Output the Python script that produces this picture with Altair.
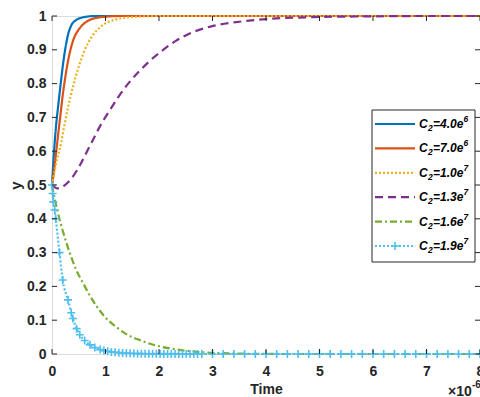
import altair as alt
import pandas as pd

# ---------------- data ----------------
series_labels = ["C2=4.0e6", "C2=7.0e6", "C2=1.0e7", "C2=1.3e7", "C2=1.6e7", "C2=1.9e7"]
label_mid = ["=4.0e", "=7.0e", "=1.0e", "=1.3e", "=1.6e", "=1.9e"]
label_sup = ["6", "6", "7", "7", "7", "7"]
series_colors = ["#0072BD", "#D95319", "#EDB120", "#7E2F8E", "#77AC30", "#4DBEEE"]
series_dashes = [[1, 0], [1, 0], [2, 2], [8, 5], [7, 3, 2, 3], [2, 2]]

t_c1 = [0, 0.03, 0.07, 0.12, 0.17, 0.2, 0.245, 0.3, 0.36, 0.45, 0.55, 0.65, 0.8, 1.0, 2, 4, 6, 8]
y_c1 = [0.5, 0.58, 0.665, 0.74, 0.81, 0.85, 0.9, 0.945, 0.972, 0.988, 0.995, 0.998, 1, 1, 1, 1, 1, 1]

t_c2 = [0, 0.04, 0.08, 0.13, 0.16, 0.2, 0.24, 0.31, 0.4, 0.5, 0.58, 0.7, 0.85, 1.0, 1.3, 2, 4, 6, 8]
y_c2 = [0.5, 0.545, 0.6, 0.67, 0.71, 0.765, 0.81, 0.875, 0.93, 0.96, 0.975, 0.988, 0.995, 0.998, 1, 1, 1, 1, 1]

t_c3 = [0, 0.08, 0.17, 0.23, 0.3, 0.39, 0.5, 0.6, 0.75, 0.94, 1.2, 1.5, 2, 3, 4, 6, 8]
y_c3 = [0.5, 0.565, 0.625, 0.675, 0.73, 0.79, 0.85, 0.895, 0.94, 0.972, 0.99, 0.997, 1, 1, 1, 1, 1]

t_c4 = [0, 0.1, 0.2, 0.3, 0.39, 0.545, 0.64, 0.76, 0.89, 1.1, 1.23, 1.45, 1.64, 1.82, 2.0,
        2.3, 2.63, 3.0, 3.5, 4.0, 5.0, 6.0, 7.0, 8.0]
y_c4 = [0.5, 0.49, 0.495, 0.508, 0.525, 0.565, 0.595, 0.632, 0.672, 0.726, 0.758, 0.805, 0.838,
        0.866, 0.89, 0.925, 0.952, 0.97, 0.983, 0.991, 0.997, 0.999, 1, 1]

t_c5 = [0, 0.05, 0.1, 0.2, 0.33, 0.45, 0.58, 0.7, 0.83, 1.0, 1.2, 1.4, 1.64, 2.0, 2.26, 2.6,
        2.9, 3.3, 3.8, 4.5, 6, 8]
y_c5 = [0.5, 0.46, 0.425, 0.365, 0.3, 0.25, 0.21, 0.175, 0.142, 0.108, 0.08, 0.058, 0.041,
        0.023, 0.015, 0.008, 0.004, 0.002, 0.0005, 0, 0, 0]

t_c6 = [0, 0.012, 0.025, 0.05, 0.07, 0.14, 0.2, 0.3, 0.36, 0.39, 0.46, 0.52, 0.61, 0.71, 0.8,
        0.9, 0.97, 1.04, 1.11, 1.18, 1.25, 1.32, 1.39, 1.46, 1.53, 1.6, 1.67, 1.74, 1.81, 1.88,
        1.95, 2.02, 2.09, 2.16, 2.23, 2.3, 2.37, 2.44, 2.51, 2.58, 2.65, 2.72, 2.8,
        3.0, 3.2, 3.4, 3.6, 3.8, 4.0, 4.2, 4.4, 4.6, 4.8, 5.0, 5.2, 5.4, 5.6, 5.8,
        6.0, 6.2, 6.4, 6.6, 6.8, 7.0, 7.2, 7.4, 7.6, 7.8, 8.0]
y_c6 = [0.5, 0.475, 0.45, 0.426, 0.4, 0.3, 0.219, 0.16, 0.122, 0.105, 0.075, 0.057, 0.04, 0.027,
        0.019, 0.013, 0.01, 0.008, 0.006, 0.005, 0.004, 0.003, 0.0025, 0.002, 0.0015, 0.001,
        0.001, 0.0008, 0.0006, 0.0005, 0.0004, 0.0003, 0.0003, 0.0002, 0.0002, 0.0001, 0.0001,
        0, 0, 0, 0, 0, 0,
        0, 0, 0, 0, 0, 0, 0, 0, 0, 0, 0, 0, 0, 0, 0,
        0, 0, 0, 0, 0, 0, 0, 0, 0, 0, 0]

x_ticks = [0, 1, 2, 3, 4, 5, 6, 7, 8]
y_ticks = [0, 0.1, 0.2, 0.3, 0.4, 0.5, 0.6, 0.7, 0.8, 0.9, 1]

# ---------------- tables ----------------
all_t = [t_c1, t_c2, t_c3, t_c4, t_c5, t_c6]
all_y = [y_c1, y_c2, y_c3, y_c4, y_c5, y_c6]
rows = []
for k, (lab, ts, ys) in enumerate(zip(series_labels, all_t, all_y)):
    for t, y in zip(ts, ys):
        rows.append({"series": lab, "k": k, "t": t, "y": y})
df = pd.DataFrame(rows)
df_mk = pd.DataFrame({"t": t_c6, "y": y_c6})
df_xt = pd.DataFrame({"t": x_ticks})
df_yt = pd.DataFrame({"y": y_ticks})
df_leg = pd.DataFrame({"series": series_labels, "row": list(range(len(series_labels))),
                       "c": ["C"] * len(series_labels), "sub": ["2"] * len(series_labels),
                       "mid": label_mid, "sup": label_sup})
df_one = pd.DataFrame({"a": [0]})

FONT = "Liberation Sans"
INK = "#262626"
W, H = 428, 338

xscale = alt.Scale(domain=[0, 8], nice=False, zero=False)
yscale = alt.Scale(domain=[0, 1], nice=False, zero=False)
cscale = alt.Scale(domain=series_labels, range=series_colors)
dscale = alt.Scale(domain=series_labels, range=series_dashes)

x_axis = alt.Axis(values=x_ticks, format="~g", ticks=False, tickSize=0, domain=False, grid=False,
                  labelFont=FONT, labelFontSize=14, labelFontWeight="bold", labelColor=INK,
                  labelPadding=10, labelFlush=False, labelOverlap=False,
                  title="Time", titleFont=FONT, titleFontSize=14, titleFontWeight="bold",
                  titleColor=INK, titlePadding=4)
y_axis = alt.Axis(values=y_ticks, format="~g", ticks=False, tickSize=0, domain=False, grid=False,
                  labelFont=FONT, labelFontSize=14, labelFontWeight="bold", labelColor=INK,
                  labelPadding=6, labelFlush=False, labelOverlap=False,
                  title="y", titleFont=FONT, titleFontSize=15, titleFontWeight="bold",
                  titleColor=INK, titlePadding=3)

X = alt.X("t:Q", scale=xscale, axis=x_axis)
Y = alt.Y("y:Q", scale=yscale, axis=y_axis)

lines = alt.Chart(df).mark_line(strokeWidth=2.2, interpolate="monotone").encode(
    x=X, y=Y,
    color=alt.Color("series:N", scale=cscale, legend=None),
    strokeDash=alt.StrokeDash("series:N", scale=dscale, legend=None),
    order=alt.Order("t:Q"),
)

plus_path = "M-1,0L1,0M0,-1L0,1"
markers = alt.Chart(df_mk).mark_point(shape=plus_path, filled=False, size=64, strokeWidth=1.6,
                                      color="#4DBEEE", opacity=1).encode(x=X, y=Y)

tick_style = dict(color=INK, strokeWidth=1)
ytick_l = alt.Chart(df_yt).mark_rule(**tick_style).encode(y=Y, x=alt.value(0), x2=alt.value(5))
ytick_r = alt.Chart(df_yt).mark_rule(**tick_style).encode(y=Y, x=alt.value(W), x2=alt.value(W - 5))
xtick_b = alt.Chart(df_xt).mark_rule(**tick_style).encode(x=X, y=alt.value(H), y2=alt.value(H - 5))
xtick_t = alt.Chart(df_xt).mark_rule(**tick_style).encode(x=X, y=alt.value(0), y2=alt.value(5))

exp_base = alt.Chart(df_one).mark_text(text="\u00d710", font=FONT, fontSize=14, fontWeight="bold",
                                       color=INK, align="left", baseline="alphabetic").encode(
    x=alt.value(396), y=alt.value(380))
exp_sup = alt.Chart(df_one).mark_text(text="-6", font=FONT, fontSize=10, fontWeight="bold",
                                      color=INK, align="left", baseline="alphabetic").encode(
    x=alt.value(420), y=alt.value(372))

main = alt.layer(lines, markers, ytick_l, ytick_r, xtick_b, xtick_t, exp_base, exp_sup)

# ---------------- legend ----------------
lscale = alt.Scale(type="point", domain=list(range(len(series_labels))), range=[108, 230], padding=0)
LY = alt.Y("row:O", scale=lscale, axis=None)
leg_box = alt.Chart(df_one).mark_rect(fill="white", stroke=INK, strokeWidth=1).encode(
    x=alt.value(320), x2=alt.value(423), y=alt.value(94), y2=alt.value(246))
leg_lines = alt.Chart(df_leg).mark_rule(strokeWidth=2.2).encode(
    x=alt.value(323), x2=alt.value(363), y=LY,
    color=alt.Color("series:N", scale=cscale, legend=None),
    strokeDash=alt.StrokeDash("series:N", scale=dscale, legend=None),
)
txt = dict(align="left", baseline="middle", font=FONT, fontWeight="bold", fontStyle="italic",
           color="black")
leg_c = alt.Chart(df_leg).mark_text(fontSize=12, **txt).encode(x=alt.value(367), y=LY, text="c:N")
leg_sub = alt.Chart(df_leg).mark_text(fontSize=8.5, dy=4, **txt).encode(
    x=alt.value(376), y=LY, text="sub:N")
leg_mid = alt.Chart(df_leg).mark_text(fontSize=12, **txt).encode(x=alt.value(381), y=LY, text="mid:N")
leg_sup = alt.Chart(df_leg).mark_text(fontSize=8.5, dy=-5, **txt).encode(
    x=alt.value(411.5), y=LY, text="sup:N")
leg_mark = alt.Chart(df_leg).transform_filter(alt.datum.row == 5).mark_point(
    shape=plus_path, filled=False, size=64, strokeWidth=1.6, color="#4DBEEE", opacity=1).encode(
    x=alt.value(343), y=LY)
legend = alt.layer(leg_box, leg_lines, leg_c, leg_sub, leg_mid, leg_sup, leg_mark)

chart = alt.layer(main, legend).resolve_scale(y="independent").properties(
    width=W, height=H, autosize="none",
    padding={"left": 52, "top": 16, "right": 0, "bottom": 43},
).configure_view(stroke=INK, strokeWidth=1).configure(background="white")

chart.save("out.html", embed_options={"renderer": "svg", "actions": False})
